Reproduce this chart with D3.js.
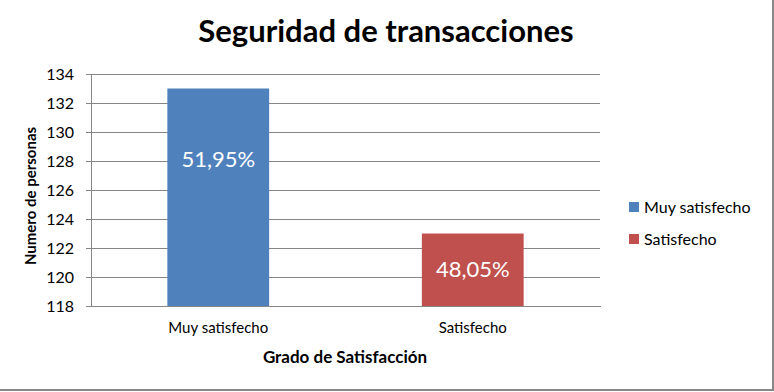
<!DOCTYPE html>
<html><head><meta charset="utf-8">
<script src="https://cdn.jsdelivr.net/npm/d3@7"></script>
<style>body{margin:0;background:#fff}svg{display:block}</style>
</head><body>
<script>
const categories = ["Muy satisfecho", "Satisfecho"];
const values = [133, 123];
const labels = ["51,95%", "48,05%"];
const labelAt = [128.1, 120.5];
const colors = ["#4F81BD", "#C0504D"];
const yTicks = [118, 120, 122, 124, 126, 128, 130, 132, 134];

(function () {
const W = 774, H = 392;
const font = "Lato, 'Open Sans', sans-serif";
const svg = d3.select("body").append("svg").attr("width", W).attr("height", H);
svg.append("rect").attr("width", W).attr("height", H).attr("fill", "#fff");

const pL = 91, pR = 600, pT = 74, pB = 306;
const x = d3.scaleBand().domain(categories).range([pL, pR]).paddingInner(0.6).paddingOuter(0.3);
const y = d3.scaleLinear().domain([118, 134]).range([pB, pT]);

// gridlines
svg.append("g").selectAll("line").data(yTicks).join("line")
  .attr("x1", pL).attr("x2", pR)
  .attr("y1", d => y(d)).attr("y2", d => y(d))
  .attr("stroke", "#868686").attr("stroke-width", 1).attr("shape-rendering", "crispEdges");

// y axis
const yAxis = d3.axisLeft(y).tickValues(yTicks).tickSize(5).tickPadding(12);
const ga = svg.append("g").attr("transform", `translate(${pL},0)`).call(yAxis);
ga.select(".domain").attr("stroke", "#868686").attr("shape-rendering", "crispEdges");
ga.selectAll(".tick line").attr("stroke", "#868686").attr("shape-rendering", "crispEdges");
ga.selectAll("text").attr("font-family", font).attr("font-size", 16).attr("fill", "#000");

// bars
svg.append("g").selectAll("rect").data(categories).join("rect")
  .attr("x", d => x(d)).attr("width", x.bandwidth())
  .attr("y", (d, i) => y(values[i])).attr("height", (d, i) => pB - y(values[i]))
  .attr("fill", (d, i) => colors[i]);

// bar labels
svg.append("g").selectAll("text").data(categories).join("text")
  .attr("x", d => x(d) + x.bandwidth() / 2)
  .attr("y", (d, i) => y(labelAt[i]))
  .attr("dy", "0.35em").attr("text-anchor", "middle")
  .attr("font-family", font).attr("font-size", 22).attr("fill", "#fff")
  .text((d, i) => labels[i]);

// x axis
const xAxis = d3.axisBottom(x).tickSize(0).tickPadding(16);
const gx = svg.append("g").attr("transform", `translate(0,${pB})`).call(xAxis);
gx.select(".domain").attr("stroke", "#868686").attr("shape-rendering", "crispEdges");
gx.selectAll("text").attr("font-family", font).attr("font-size", 15).attr("fill", "#000");

// titles
svg.append("text").attr("x", 386).attr("y", 42).attr("text-anchor", "middle")
  .attr("font-family", font).attr("font-weight", "bold").attr("font-size", 31).attr("fill", "#000")
  .text("Seguridad de transacciones");
svg.append("text").attr("x", 345).attr("y", 363).attr("text-anchor", "middle")
  .attr("font-family", font).attr("font-weight", "bold").attr("font-size", 17).attr("fill", "#000")
  .text("Grado de Satisfacción");
svg.append("text").attr("transform", "translate(36,196) rotate(-90)").attr("text-anchor", "middle")
  .attr("font-family", font).attr("font-weight", "bold").attr("font-size", 15).attr("fill", "#000")
  .text("Numero de personas");

// legend
const lg = svg.append("g").selectAll("g").data(categories).join("g")
  .attr("transform", (d, i) => `translate(629,${202 + i * 32})`);
lg.append("rect").attr("width", 10).attr("height", 10).attr("fill", (d, i) => colors[i]);
lg.append("text").attr("x", 15).attr("y", 5).attr("dy", "0.35em")
  .attr("font-family", font).attr("font-size", 16).attr("fill", "#000").text(d => d);

// border
svg.append("line").attr("x1", 773).attr("x2", 773).attr("y1", 0).attr("y2", 391).attr("stroke", "#888").attr("stroke-width", 2);
svg.append("line").attr("x1", 0).attr("x2", 774).attr("y1", 390).attr("y2", 390).attr("stroke", "#888").attr("stroke-width", 2);
})();
</script>
</body></html>
